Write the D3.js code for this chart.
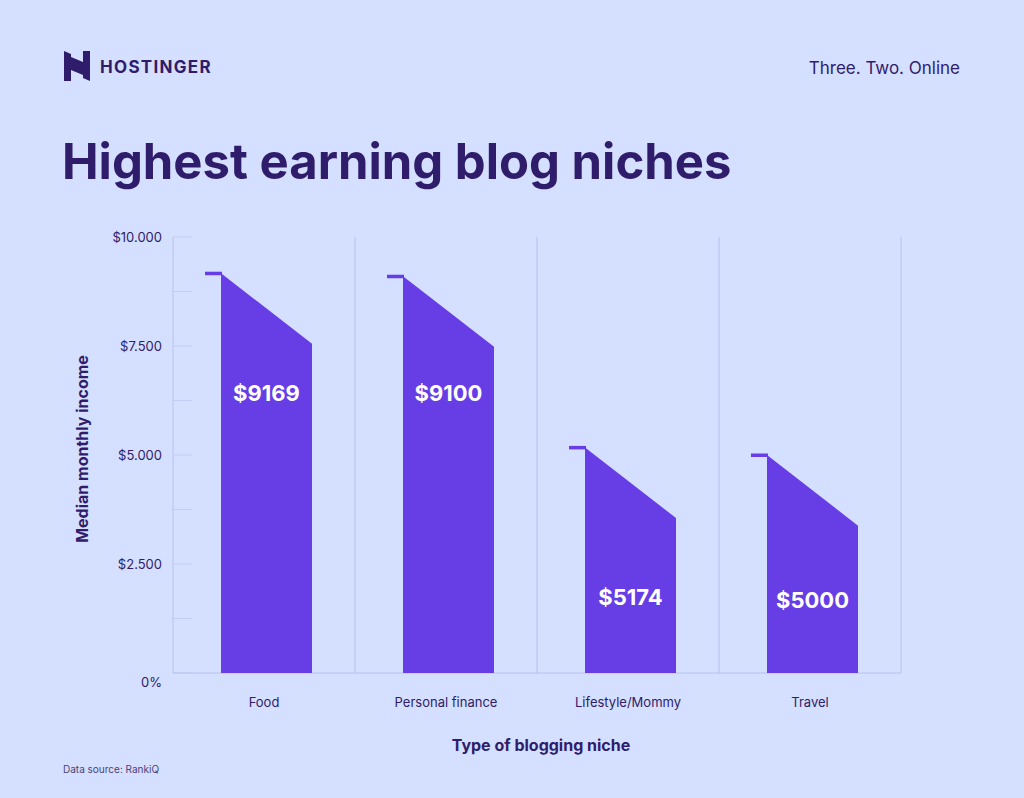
<!DOCTYPE html>
<html><head><meta charset="utf-8">
<script src="https://cdn.jsdelivr.net/npm/d3@7"></script>
<style>body{margin:0;background:#D5DFFF;font-family:Inter,"DejaVu Sans",sans-serif}</style>
</head><body>
<svg id="c" width="1024" height="798"></svg>
<script>
const categories = ["Food","Personal finance","Lifestyle/Mommy","Travel"];
const values = [9169,9100,5174,5000];
const valueLabels = ["$9169","$9100","$5174","$5000"];
const labelAt = [6250,6250,1550,1500];
const yTicks = [0,2500,5000,7500,10000];
const yTickLabels = ["0%","$2.500","$5.000","$7.500","$10.000"];
const slopeDrop = 1620;

const svg = d3.select("#c");
const ink = "#2F1C6A", bar = "#673DE6";
svg.append("rect").attr("width",1024).attr("height",798).attr("fill","#D5DFFF");

// logo
const g = svg.append("g").attr("transform","translate(64,51)");
g.append("path").attr("d","M0,0 L7,3 L7,11 L19,16 L19,24 L7,19 L7,30 L0,30 Z").attr("fill",ink);
g.append("path").attr("d","M26,30 L19,27 L19,19 L7,14 L7,6 L19,11 L19,0 L26,0 Z").attr("fill",ink);
svg.append("text").attr("x",100).attr("y",73).text("HOSTINGER").attr("fill",ink)
  .attr("font-size",17).attr("font-weight",700).attr("letter-spacing",1.3);
svg.append("text").attr("x",960).attr("y",74).attr("text-anchor","end").text("Three. Two. Online")
  .attr("fill",ink).attr("font-size",17);
svg.append("text").attr("x",62).attr("y",179).text("Highest earning blog niches")
  .attr("fill",ink).attr("font-size",49).attr("font-weight",700).attr("letter-spacing",0);

const x = d3.scaleBand().domain(categories).range([173,901]);
const y = d3.scaleLinear().domain([0,10000]).range([673,237]);

d3.range(0,10001,1250).forEach(v=>{
  svg.append("line").attr("x1",173).attr("x2",192).attr("y1",y(v)).attr("y2",y(v))
   .attr("stroke","#c3cdf3").attr("stroke-width",1);
});
svg.append("line").attr("x1",173).attr("x2",173).attr("y1",237).attr("y2",673).attr("stroke","#b9c1ea");
categories.forEach(c=>{
  svg.append("line").attr("x1",x(c)+x.bandwidth()).attr("x2",x(c)+x.bandwidth()).attr("y1",237).attr("y2",673).attr("stroke","#b9c1ea");
});
svg.append("line").attr("x1",173).attr("x2",901).attr("y1",673).attr("y2",673).attr("stroke","#b9c1ea");

yTicks.forEach((v,i)=>{
  svg.append("text").attr("x",162).attr("y",y(v)+(v===0?14:5)).attr("text-anchor","end")
   .text(yTickLabels[i]).attr("fill",ink).attr("font-size",13);
});

const bw = 91;
categories.forEach((c,i)=>{
  const x0 = x(c)+48, x1 = x0+bw, cx = (x0+x1)/2;
  const top = y(values[i]), rt = y(values[i]-slopeDrop);
  svg.append("path").attr("d",`M${x0},${y(0)} L${x0},${top} L${x1},${rt} L${x1},${y(0)} Z`).attr("fill",bar);
  svg.append("rect").attr("x",x0-16).attr("y",top-1.5).attr("width",17).attr("height",3.5).attr("fill",bar);
  svg.append("text").attr("x",cx).attr("y",y(labelAt[i])).attr("text-anchor","middle")
   .text(valueLabels[i]).attr("fill","#fff").attr("font-size",22).attr("font-weight",700);
  svg.append("text").attr("x",x(c)+x.bandwidth()/2).attr("y",707).attr("text-anchor","middle")
   .text(c).attr("fill",ink).attr("font-size",13);
});

svg.append("text").attr("x",541).attr("y",751).attr("text-anchor","middle").text("Type of blogging niche")
  .attr("fill",ink).attr("font-size",16).attr("font-weight",700);
svg.append("text").attr("transform","translate(88,449) rotate(-90)").attr("text-anchor","middle")
  .text("Median monthly income").attr("fill",ink).attr("font-size",16).attr("font-weight",700);
svg.append("text").attr("x",63).attr("y",773).text("Data source: RankiQ").attr("fill","#4a3f7a").attr("font-size",10);
</script></body></html>
